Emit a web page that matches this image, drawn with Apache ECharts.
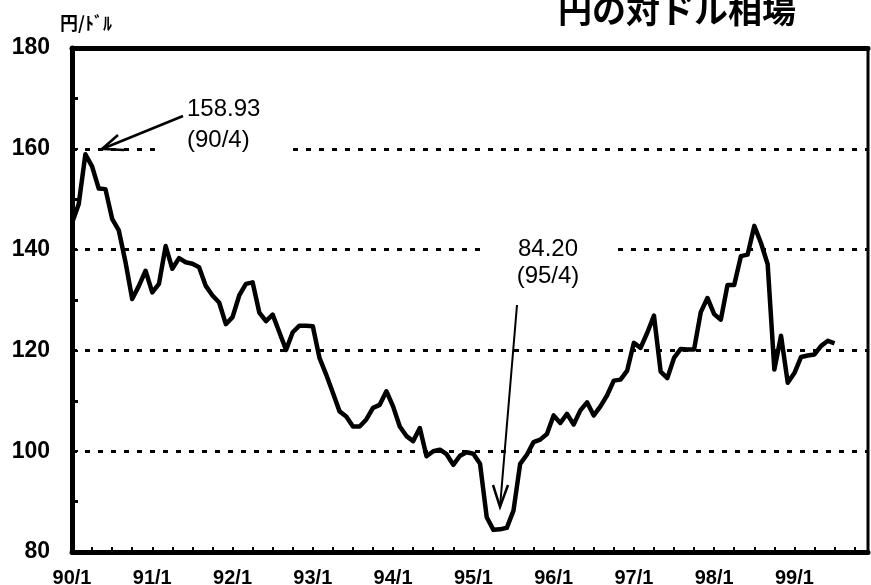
<!DOCTYPE html>
<html>
<head>
<meta charset="utf-8">
<title>円の対ドル相場</title>
<script src="https://cdn.jsdelivr.net/npm/echarts@6/dist/echarts.min.js"></script>
<style>
  html, body { margin: 0; padding: 0; background: #fff; }
  #chart { width: 871px; height: 585px; }
</style>
</head>
<body>
<div id="chart"></div>
<script>
// 月次カテゴリ 90/1 〜 99/12
const years = [90, 91, 92, 93, 94, 95, 96, 97, 98, 99];
const monthNames = [1, 2, 3, 4, 5, 6, 7, 8, 9, 10, 11, 12];
const months = [];
years.forEach(y => monthNames.forEach(m => months.push(y + '/' + m)));

// 円/ドル 月次 (90/1 〜 99/7), 図から読み取り
const yen90 = [145.3, 149.0, 158.9, 156.5, 152.1, 152.0, 146.1, 143.8, 137.5, 130.2, 132.8, 135.8];
const yen91 = [131.5, 133.2, 140.7, 136.2, 138.3, 137.5, 137.2, 136.5, 132.8, 130.9, 129.5, 125.2];
const yen92 = [126.6, 130.9, 133.2, 133.5, 127.5, 125.8, 127.1, 123.6, 120.1, 123.6, 124.9, 124.9];
const yen93 = [124.8, 118.5, 115.2, 111.6, 107.9, 106.9, 104.9, 104.9, 106.3, 108.6, 109.2, 111.9];
const yen94 = [108.9, 104.9, 103.0, 102.0, 104.6, 99.0, 100.0, 100.3, 99.4, 97.3, 99.1, 99.8];
const yen95 = [99.5, 97.5, 86.9, 84.4, 84.5, 84.8, 88.2, 97.5, 99.3, 101.8, 102.3, 103.4];
const yen96 = [107.1, 105.6, 107.4, 105.3, 108.1, 109.7, 107.1, 108.9, 111.1, 114.0, 114.2, 116.0];
const yen97 = [121.5, 120.5, 123.5, 126.9, 115.8, 114.5, 118.5, 120.3, 120.2, 120.2, 127.6, 130.4];
const yen98 = [127.2, 126.1, 133.0, 133.0, 138.7, 139.0, 144.7, 141.3, 137.1, 116.2, 122.9, 113.6];
const yen99 = [115.5, 118.7, 119.0, 119.2, 120.9, 121.9, 121.4];
const yenRate = [].concat(yen90, yen91, yen92, yen93, yen94, yen95, yen96, yen97, yen98, yen99);

const chart = echarts.init(document.getElementById('chart'));

const numFont = '24px "Liberation Sans", Arial, sans-serif';

const option = {
  animation: false,
  backgroundColor: '#fff',
  title: {
    text: '円の対ドル相場',
    left: 553,
    top: -12,
    textStyle: {
      fontFamily: '"Noto Sans CJK JP", sans-serif',
      fontSize: 34,
      fontWeight: 'bold',
      color: '#000'
    }
  },
  grid: {
    left: 72,
    right: 3,
    top: 48,
    bottom: 33,
    show: true,
    borderColor: '#000',
    borderWidth: 3,
    outerBoundsMode: 'none'
  },
  xAxis: [
    {
      type: 'category',
      data: months,
      boundaryGap: false,
      axisLine: { lineStyle: { color: '#000', width: 5 } },
      axisTick: {
        show: true,
        inside: true,
        interval: 2,
        length: 5,
        lineStyle: { color: '#000', width: 2 }
      },
      axisLabel: {
        interval: (i) => i % 12 === 0,
        color: '#000',
        fontSize: 20,
        fontWeight: 'bold',
        fontFamily: '"Liberation Sans", Arial, sans-serif',
        margin: 16
      },
      splitLine: { show: false }
    },
    {
      type: 'category',
      data: months,
      position: 'top',
      boundaryGap: false,
      axisLine: { lineStyle: { color: '#000', width: 5 } },
      axisTick: { show: false },
      axisLabel: { show: false },
      splitLine: { show: false }
    }
  ],
  yAxis: {
    type: 'value',
    min: 80,
    max: 180,
    interval: 20,
    axisLine: { show: true, lineStyle: { color: '#000', width: 5 } },
    axisTick: { show: true, inside: true, length: 6, lineStyle: { color: '#000', width: 2 } },
    minorTick: { show: true, splitNumber: 2, length: 6, lineStyle: { color: '#000', width: 3 } },
    axisLabel: {
      color: '#000',
      fontSize: 23,
      fontWeight: 'bold',
      fontFamily: '"Liberation Sans", Arial, sans-serif',
      margin: 22
    },
    splitLine: {
      show: true,
      lineStyle: { color: '#000', width: 3, type: [5, 8] }
    }
  },
  series: [
    {
      type: 'line',
      data: yenRate,
      showSymbol: false,
      z: 3,
      lineStyle: { color: '#000', width: 4.5, join: 'round' }
    }
  ],
  graphic: [
    // 単位
    {
      type: 'text', x: 60, y: 23, z: 20,
      style: {
        text: '円/ﾄﾞﾙ', font: 'bold 18px "Noto Sans CJK JP", sans-serif',
        fill: '#000', verticalAlign: 'middle'
      }
    },
    // 注記の背後で点線を消す
    { type: 'rect', z: 10, shape: { x: 157, y: 140, width: 131, height: 20 }, style: { fill: '#fff' } },
    { type: 'rect', z: 10, shape: { x: 485, y: 240, width: 126, height: 20 }, style: { fill: '#fff' } },
    // 最高値 注記
    { type: 'text', x: 187, y: 109, z: 20, style: { text: '158.93', font: numFont, fill: '#000', verticalAlign: 'middle' } },
    { type: 'text', x: 187, y: 140, z: 20, style: { text: '(90/4)', font: numFont, fill: '#000', verticalAlign: 'middle' } },
    { type: 'polyline', z: 20, shape: { points: [[183, 116], [102, 149]] }, style: { stroke: '#000', lineWidth: 2.5, fill: null } },
    { type: 'polyline', z: 20, shape: { points: [[118, 135], [102, 149], [124, 150]] }, style: { stroke: '#000', lineWidth: 2.5, fill: null } },
    // 最安値 注記
    { type: 'text', x: 548, y: 249, z: 20, style: { text: '84.20', font: numFont, fill: '#000', align: 'center', verticalAlign: 'middle' } },
    { type: 'text', x: 548, y: 276, z: 20, style: { text: '(95/4)', font: numFont, fill: '#000', align: 'center', verticalAlign: 'middle' } },
    { type: 'polyline', z: 20, shape: { points: [[517, 305], [500, 507]] }, style: { stroke: '#000', lineWidth: 2, fill: null } },
    { type: 'polyline', z: 20, shape: { points: [[493, 485], [500, 507], [508, 485]] }, style: { stroke: '#000', lineWidth: 2.5, fill: null } }
  ]
};

chart.setOption(option);
</script>
</body>
</html>
